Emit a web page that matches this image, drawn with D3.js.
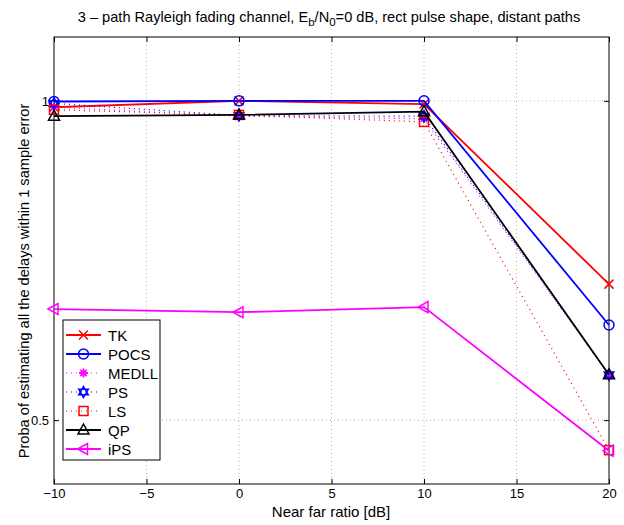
<!DOCTYPE html>
<html><head><meta charset="utf-8">
<script src="https://cdn.jsdelivr.net/npm/d3@7"></script>
<style>body{margin:0;background:#fff;} text{font-family:"Liberation Sans",Arial,sans-serif;}</style>
</head><body>
<svg id="c" width="624" height="525"></svg>
<script>
const xValues = [-10, 0, 10, 20];
const seriesNames = ["TK", "POCS", "MEDLL", "PS", "LS", "QP", "iPS"];
const tk    = [0.990, 1.000, 0.995, 0.713];
const pocs  = [0.999, 1.000, 1.000, 0.649];
const medll = [0.990, 0.976, 0.972, 0.571];
const ps    = [0.996, 0.977, 0.976, 0.571];
const ls    = [0.986, 0.978, 0.967, 0.453];
const qp    = [0.976, 0.978, 0.983, 0.571];
const ips   = [0.674, 0.669, 0.677, 0.452];
const xTicks = [-10, -5, 0, 5, 10, 15, 20];
const yTicks = [0.5, 1];
const yTickLabels = ["0.5", "1"];

const styles = {
  TK:    {color:"#ff0000", dash:null, marker:"x", w:1.8},
  POCS:  {color:"#0000ff", dash:null, marker:"o", w:1.8},
  MEDLL: {color:"#ff00ff", dash:"1,4", marker:"*", w:1.2},
  PS:    {color:"#0000ff", dash:"1,4", marker:"h", w:1.2},
  LS:    {color:"#ff0000", dash:"1,4", marker:"s", w:1.2},
  QP:    {color:"#000000", dash:null, marker:"^", w:1.8},
  iPS:   {color:"#ff00ff", dash:null, marker:"<", w:1.8}
};
const dataMap = {TK:tk, POCS:pocs, MEDLL:medll, PS:ps, LS:ls, QP:qp, iPS:ips};

const svg = d3.select("#c");
const L=54, R=609, T=37, B=484;
const x = d3.scaleLinear().domain([-10,20]).range([L,R]);
const y = d3.scaleLinear().domain([0.4,1.1]).range([B,T]);

// grid
const g = svg.append("g");
g.selectAll(".gx").data(xTicks.slice(1,-1)).enter().append("line")
  .attr("x1",d=>x(d)).attr("x2",d=>x(d)).attr("y1",T).attr("y2",B)
  .attr("stroke","#000").attr("stroke-width",0.5).attr("stroke-dasharray","1,3").attr("opacity",0.6);
g.selectAll(".gy").data(yTicks).enter().append("line")
  .attr("y1",d=>y(d)).attr("y2",d=>y(d)).attr("x1",L).attr("x2",R)
  .attr("stroke","#000").attr("stroke-width",0.5).attr("stroke-dasharray","1,3").attr("opacity",0.6);

// axes
const xb = d3.axisBottom(x).tickValues(xTicks).tickSize(-5).tickPadding(5).tickFormat(d=>d<0?"\u2212"+Math.abs(d):d);
const xt = d3.axisTop(x).tickValues(xTicks).tickSize(-5).tickFormat("");
const yl = d3.axisLeft(y).tickValues(yTicks).tickSize(-5).tickPadding(5).tickFormat((d,i)=>yTickLabels[i]);
const yr = d3.axisRight(y).tickValues(yTicks).tickSize(-5).tickFormat("");
function style(sel){sel.select(".domain").remove(); sel.selectAll("line").attr("stroke","#000"); sel.selectAll("text").attr("font-size",13).attr("fill","#000").attr("font-family","Liberation Sans, Arial, sans-serif");}
svg.append("g").attr("transform",`translate(0,${B})`).call(xb).call(style);
svg.append("g").attr("transform",`translate(0,${T})`).call(xt).call(style);
svg.append("g").attr("transform",`translate(${L},0)`).call(yl).call(style);
svg.append("g").attr("transform",`translate(${R},0)`).call(yr).call(style);
svg.append("rect").attr("x",L).attr("y",T).attr("width",R-L).attr("height",B-T)
  .attr("fill","none").attr("stroke","#000").attr("stroke-width",1);

function drawMarker(sel, m, cx, cy, color){
  const s=4.5;
  if(m==="x"){
    sel.append("path").attr("d",`M${cx-s},${cy-s}L${cx+s},${cy+s}M${cx-s},${cy+s}L${cx+s},${cy-s}`).attr("stroke",color).attr("stroke-width",1.5).attr("fill","none");
  } else if(m==="o"){
    sel.append("circle").attr("cx",cx).attr("cy",cy).attr("r",5).attr("stroke",color).attr("stroke-width",1.5).attr("fill","none");
  } else if(m==="*"){
    let d="";
    for(let k=0;k<4;k++){const a=k*Math.PI/4;d+=`M${cx-s*Math.cos(a)},${cy-s*Math.sin(a)}L${cx+s*Math.cos(a)},${cy+s*Math.sin(a)}`;}
    sel.append("path").attr("d",d).attr("stroke",color).attr("stroke-width",1.8).attr("fill","none");
  } else if(m==="h"){
    const r=5.5;
    const t1=[0,1,2].map(k=>{const a=-Math.PI/2+k*2*Math.PI/3;return [cx+r*Math.cos(a),cy+r*Math.sin(a)];});
    const t2=[0,1,2].map(k=>{const a=Math.PI/2+k*2*Math.PI/3;return [cx+r*Math.cos(a),cy+r*Math.sin(a)];});
    sel.append("path").attr("d","M"+t1.join("L")+"Z M"+t2.join("L")+"Z").attr("stroke",color).attr("stroke-width",1.5).attr("fill","none");
  } else if(m==="s"){
    sel.append("rect").attr("x",cx-4.5).attr("y",cy-4.5).attr("width",9).attr("height",9).attr("stroke",color).attr("stroke-width",1.5).attr("fill","none");
  } else if(m==="^"){
    sel.append("path").attr("d",`M${cx},${cy-6}L${cx+5.5},${cy+4}L${cx-5.5},${cy+4}Z`).attr("stroke",color).attr("stroke-width",1.5).attr("fill","none");
  } else if(m==="<"){
    sel.append("path").attr("d",`M${cx-6},${cy}L${cx+4},${cy-5.5}L${cx+4},${cy+5.5}Z`).attr("stroke",color).attr("stroke-width",1.5).attr("fill","none");
  }
}

const line = d3.line().x((d,i)=>x(xValues[i])).y(d=>y(d));
const plot = svg.append("g");
seriesNames.forEach(name=>{
  const st=styles[name], vals=dataMap[name];
  plot.append("path").datum(vals).attr("d",line).attr("fill","none")
    .attr("stroke",st.color).attr("stroke-width",st.w).attr("stroke-dasharray",st.dash);
  vals.forEach((v,i)=>drawMarker(plot, st.marker, x(xValues[i]), y(v), st.color));
});

// legend
const lg = svg.append("g");
lg.append("rect").attr("x",63).attr("y",320).attr("width",97).attr("height",140).attr("fill","#fff").attr("stroke","#000").attr("stroke-width",1);
seriesNames.forEach((name,i)=>{
  const st=styles[name]; const yy=335+i*19;
  lg.append("line").attr("x1",66).attr("x2",101).attr("y1",yy).attr("y2",yy)
    .attr("stroke",st.color).attr("stroke-width",st.w).attr("stroke-dasharray",st.dash);
  drawMarker(lg, st.marker, 83.5, yy, st.color);
  lg.append("text").attr("x",108).attr("y",yy+5.5).attr("font-size",15).attr("fill","#000").text(name);
});

// title
const title = svg.append("text").attr("x",329).attr("y",22).attr("text-anchor","middle").attr("font-size",14.6).attr("fill","#000");
title.append("tspan").text("3 \u2013 path Rayleigh fading channel, E");
title.append("tspan").attr("baseline-shift","-30%").attr("font-size",11.5).text("b");
title.append("tspan").text("/N");
title.append("tspan").attr("baseline-shift","-30%").attr("font-size",11.5).text("0");
title.append("tspan").text("=0 dB, rect pulse shape, distant paths");

svg.append("text").attr("x",331).attr("y",517).attr("text-anchor","middle").attr("font-size",15).attr("fill","#000").text("Near far ratio [dB]");
svg.append("text").attr("transform","translate(29,281) rotate(-90)").attr("text-anchor","middle").attr("font-size",14.6).attr("fill","#000").text("Proba of estimating all the delays within 1 sample error");
</script>
</body></html>
